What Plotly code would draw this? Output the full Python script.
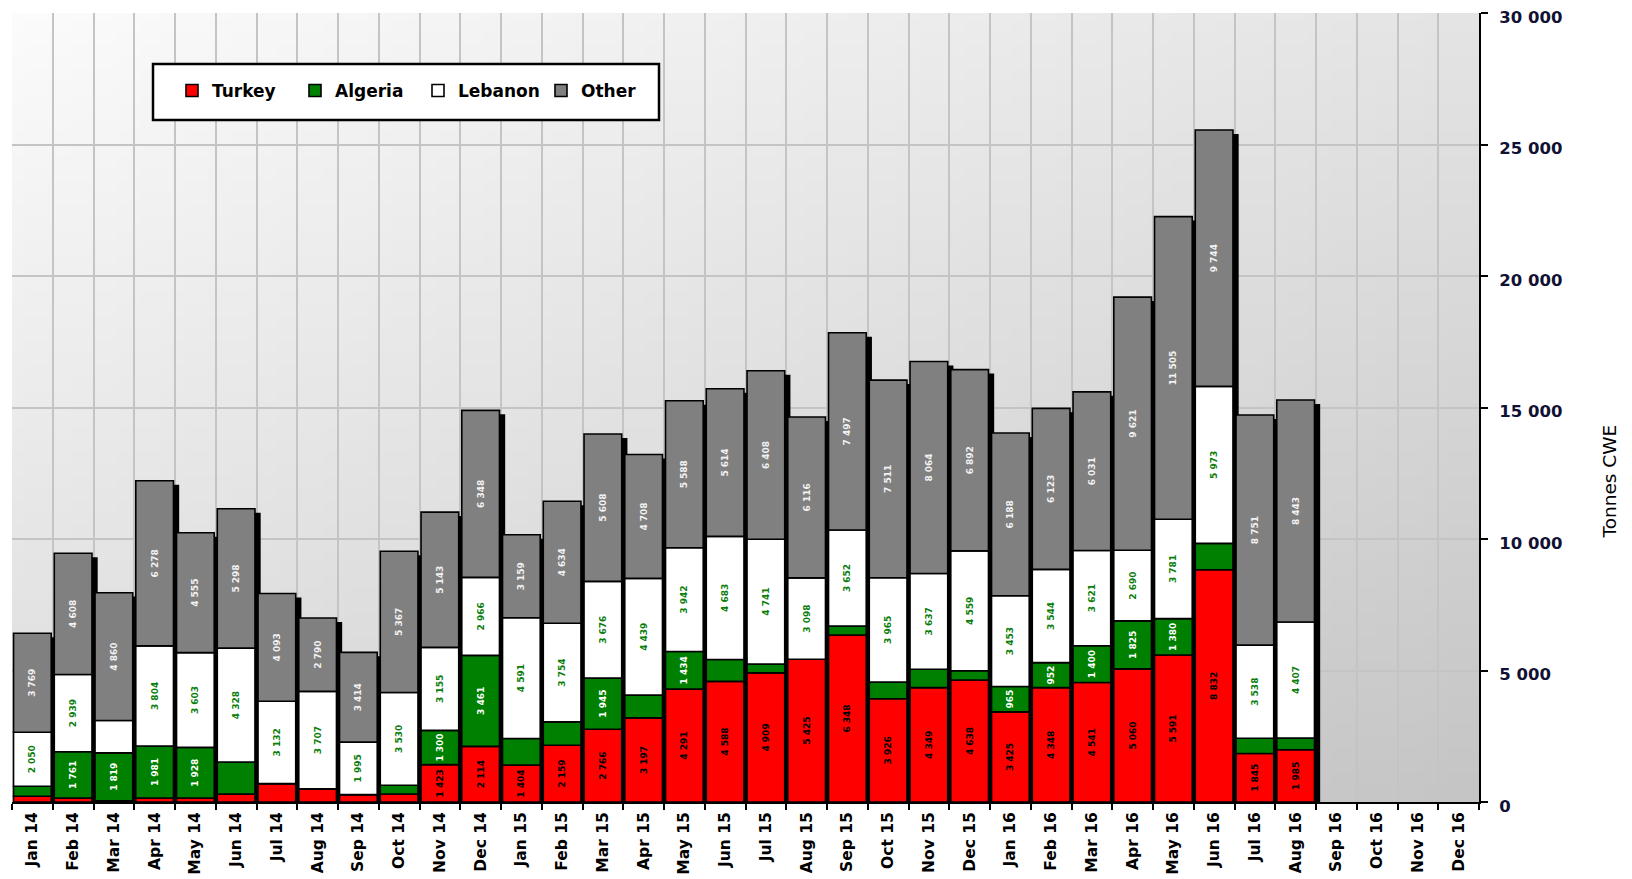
import plotly.graph_objects as go
import zlib, struct, base64

categories = ["Jan 14", "Feb 14", "Mar 14", "Apr 14", "May 14", "Jun 14", "Jul 14", "Aug 14",
              "Sep 14", "Oct 14", "Nov 14", "Dec 14", "Jan 15", "Feb 15", "Mar 15", "Apr 15",
              "May 15", "Jun 15", "Jul 15", "Aug 15", "Sep 15", "Oct 15", "Nov 15", "Dec 15",
              "Jan 16", "Feb 16", "Mar 16", "Apr 16", "May 16", "Jun 16", "Jul 16", "Aug 16",
              "Sep 16", "Oct 16", "Nov 16", "Dec 16"]

turkey = [220, 150, 50, 150, 150, 300, 700, 500, 280, 305, 1423, 2114, 1404, 2159, 2766, 3197,
          4291, 4588, 4909, 5425, 6348, 3926, 4349, 4638, 3425, 4348, 4541, 5060, 5591, 8832, 1845, 1985,
          None, None, None, None]
algeria = [380, 1761, 1819, 1981, 1928, 1222, 0, 0, 0, 330, 1300, 3461, 1010, 886, 1945, 867,
           1434, 830, 340, 0, 343, 638, 700, 350, 965, 952, 1400, 1825, 1380, 1000, 580, 450,
           None, None, None, None]
lebanon = [2050, 2939, 1230, 3804, 3603, 4328, 3132, 3707, 1995, 3530, 3155, 2966, 4591, 3754, 3676, 4439,
           3942, 4683, 4741, 3098, 3652, 3965, 3637, 4559, 3453, 3544, 3621, 2690, 3781, 5973, 3538, 4407,
           None, None, None, None]
other = [3769, 4608, 4860, 6278, 4555, 5298, 4093, 2790, 3414, 5367, 5143, 6348, 3159, 4634, 5608, 4708,
         5588, 5614, 6408, 6116, 7497, 7511, 8064, 6892, 6188, 6123, 6031, 9621, 11505, 9744, 8751, 8443,
         None, None, None, None]

series_names = ["Turkey", "Algeria", "Lebanon", "Other"]
series_values = [turkey, algeria, lebanon, other]
fill_colors = ["#ff0000", "#008000", "#ffffff", "#808080"]
label_colors = ["#000000", "#ffffff", "#0a7d0a", "#f2f2f2"]

BAR_W = 0.925
SHADOW_SHIFT = 0.14
SHADOW_DROP = 150


def fmt(v):
    if not v:
        return ""
    return f"{v:,}".replace(",", " ")


def gradient_png(w, h):
    raw = bytearray()
    for j in range(h):
        raw.append(0)
        v = j / (h - 1)
        for i in range(w):
            u = i / (w - 1)
            c = int(round(251 - 23 * u - 31 * v))
            raw += bytes((c, c, c))

    def chunk(t, d):
        return struct.pack(">I", len(d)) + t + d + struct.pack(">I", zlib.crc32(t + d) & 0xffffffff)

    png = (b"\x89PNG\r\n\x1a\n" + chunk(b"IHDR", struct.pack(">IIBBBBB", w, h, 8, 2, 0, 0, 0))
           + chunk(b"IDAT", zlib.compress(bytes(raw))) + chunk(b"IEND", b""))
    return "data:image/png;base64," + base64.b64encode(png).decode()


fig = go.Figure()

totals = []
for i in range(len(categories)):
    vals = [s[i] for s in series_values]
    totals.append(None if vals[0] is None else sum(vals))

fig.add_trace(go.Bar(
    x=categories, y=[None if t is None else t - SHADOW_DROP for t in totals],
    width=BAR_W, offset=-BAR_W / 2 + SHADOW_SHIFT,
    marker=dict(color="#000000", line=dict(width=0)),
    showlegend=False, hoverinfo="skip"))

base = [0 if t is not None else None for t in totals]
for name, vals, fc, lc in zip(series_names, series_values, fill_colors, label_colors):
    fig.add_trace(go.Bar(
        name=name, x=categories, y=vals, base=list(base),
        width=BAR_W, offset=-BAR_W / 2,
        marker=dict(color=fc, line=dict(color="#000000", width=1.6)),
        text=[fmt(v) for v in vals], texttemplate="%{text}",
        textposition="inside", insidetextanchor="middle", textangle=-90,
        textfont=dict(family="DejaVu Sans", size=9, color=lc, weight="bold"),
    ))
    base = [None if b is None else b + (v or 0) for b, v in zip(base, vals)]

# page body adds an 8px offset; target screen plot box: x 12..1479, y 13..802
OFF = 8
W, H = 1632, 879
L, R, T, B = 12 - OFF, W - (1479 - OFF), 13 - OFF, H - (802 - OFF)
pw, ph = W - L - R, H - T - B
X0, Y0 = 12, 802  # screen coordinates of plot origin


def px(xs):
    return (xs - X0) / pw


def py(ys):
    return (Y0 - ys) / ph


fig.update_layout(
    width=W, height=H,
    margin=dict(l=L, r=R, t=T, b=B, autoexpand=False),
    barmode="overlay",
    separators=". ",
    paper_bgcolor="#ffffff",
    plot_bgcolor="#e2e2e2",
    uniformtext=dict(minsize=9, mode="hide"),
    font=dict(family="Liberation Sans, Arial", color="#000000"),
    images=[dict(source=gradient_png(64, 64), xref="paper", yref="paper", x=0, y=1,
                 sizex=1, sizey=1, sizing="stretch", layer="below", xanchor="left", yanchor="top")],
    shapes=[dict(type="rect", xref="paper", yref="paper",
                 x0=px(153), x1=px(659), y0=py(120), y1=py(64),
                 fillcolor="#ffffff", line=dict(color="#000000", width=2.5), layer="above")],
    legend=dict(orientation="h", x=px(172), xanchor="left",
                y=py(91), yanchor="middle", entrywidth=78,
                bgcolor="rgba(0,0,0,0)", borderwidth=0,
                font=dict(family="DejaVu Sans", size=17, color="#000000", weight="bold"),
                traceorder="normal"),
    annotations=[dict(text="Tonnes CWE", xref="paper", yref="paper",
                      x=px(1621), y=py(482), showarrow=False, textangle=-90,
                      font=dict(family="DejaVu Sans", size=18.5, color="#000000"))],
    xaxis=dict(type="category", range=[-0.5, len(categories) - 0.5], tickson="boundaries",
               automargin=False, ticklabelstandoff=2,
               showgrid=True, gridcolor="#c4c4c4", gridwidth=1.5,
               showline=True, linecolor="#000000", linewidth=2,
               ticks="outside", ticklen=6, tickwidth=2, tickcolor="#000000",
               tickangle=-90, tickfont=dict(family="DejaVu Sans", size=15.5, color="#000000", weight="bold")),
    yaxis=dict(side="right", range=[0, 30000], dtick=5000, tickformat=",d",
               automargin=False, ticklabeloverflow="allow", ticklabelstandoff=8, ticklabelshift=4,
               showgrid=True, gridcolor="#c4c4c4", gridwidth=1.5, zeroline=False,
               showline=True, linecolor="#000000", linewidth=2,
               ticks="outside", ticklen=7, tickwidth=2, tickcolor="#000000",
               tickfont=dict(family="DejaVu Sans", size=16.5, color="#111133", weight="bold")),
)

fig.write_html("out.html")
